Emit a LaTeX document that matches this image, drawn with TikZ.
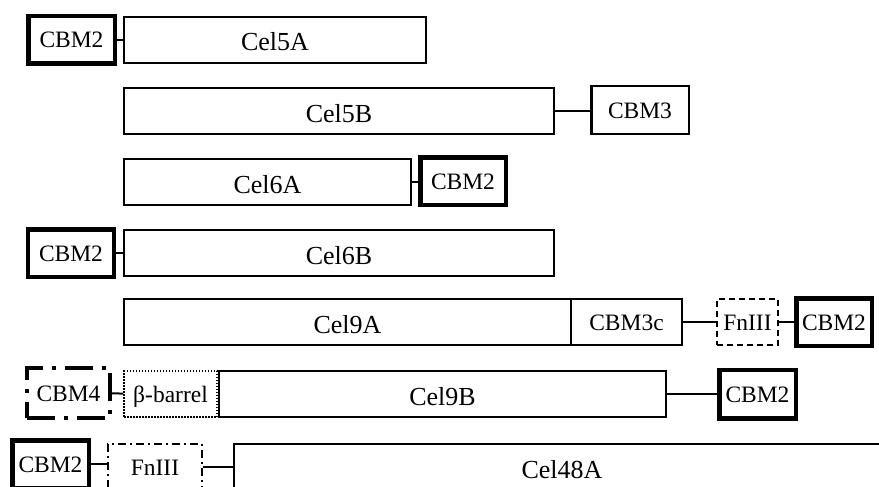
\documentclass[tikz,border=0pt]{standalone}
\usepackage{fontspec}
\setmainfont{Liberation Serif}

\tikzset{
    catalytic/.style={draw, line width=2pt, inner sep=0pt,
        font=\fontsize{26}{30}\selectfont, text height=22pt, text depth=0pt},
    module/.style={draw, line width=2pt, inner sep=0pt,
        font=\fontsize{23.5}{28}\selectfont, text height=16pt, text depth=0pt},
    cbmheavy/.style={module, line width=4.5pt},
    fndashed/.style={module, dash pattern=on 6pt off 4pt},
    fndashdot/.style={module, line width=1.8pt, dash pattern=on 8pt off 4pt on 2pt off 4pt},
    barrel/.style={module, line width=1.5pt, dash pattern=on 1.5pt off 1.5pt},
    cbmfour/.style={module, line width=4pt, dash pattern=on 28pt off 9pt on 4pt off 9pt},
    size/.style 2 args={minimum width=#1, minimum height=#2},
    link/.style={line width=2pt},
}

\begin{document}
\begin{tikzpicture}[x=1pt, y=-1pt]
    \useasboundingbox (0,0) rectangle (879,487);
    \clip (0,0) rectangle (879,487);

    % Cel5A
    \node[cbmheavy,  size={86.5pt}{47.5pt}] (cbmA)   at ( 71.5, 40) {CBM2};
    \node[catalytic, size={302pt}{46pt}]    (cel5a)  at (275,   40) {Cel5A};
    \draw[link] (cbmA) -- (cel5a);

    % Cel5B
    \node[catalytic, size={430pt}{46pt}]    (cel5b)  at (339,  111) {Cel5B};
    \node[module, line width=2.5pt, size={97.5pt}{47.5pt}] (cbmB) at (640, 110) {CBM3};
    \draw[link] (cel5b.east) -- (cel5b.east -| cbmB.west);

    % Cel6A
    \node[catalytic, size={287pt}{46pt}]    (cel6a)  at (267.5,182) {Cel6A};
    \node[cbmheavy,  size={85.5pt}{47.5pt}] (cbmC)   at (463,  181) {CBM2};
    \draw[link] (cel6a.east) -- (cel6a.east -| cbmC.west);

    % Cel6B
    \node[cbmheavy,  size={86pt}{47.5pt}]   (cbmD)   at ( 71,  253) {CBM2};
    \node[catalytic, size={430pt}{46pt}]    (cel6b)  at (339,  253) {Cel6B};
    \draw[link] (cbmD) -- (cel6b);

    % Cel9A
    \node[catalytic, size={447pt}{46pt}]    (cel9a)  at (347.5,322) {Cel9A};
    \node[module,    size={111pt}{46pt}]    (cbmE)   at (626.5,322) {CBM3c};
    \node[fndashed,  size={61pt}{46pt}]     (fnA)    at (747.5,322) {FnIII};
    \node[cbmheavy,  size={75.5pt}{47.5pt}] (cbmF)   at (834,  322) {CBM2};
    \draw[link] (cbmE) -- (fnA);
    \draw[link] (fnA)  -- (cbmF);

    % Cel9B
    \node[cbmfour,   size={83pt}{50pt}]     (cbmG)   at ( 68.5,393) {CBM4};
    \node[barrel,    size={93pt}{46pt}]     (betaA)  at (170.5,394) {β-barrel};
    \node[catalytic, size={447pt}{46pt}]    (cel9b)  at (442.5,394) {Cel9B};
    \node[cbmheavy,  size={76.5pt}{48.5pt}] (cbmH)   at (757.5,394) {CBM2};
    \draw[link] (cbmG)  -- (betaA);
    \draw[link] (cel9b) -- (cbmH);

    % Cel48A
    \node[cbmheavy,  size={76.5pt}{47.5pt}] (cbmI)   at ( 50.5,464) {CBM2};
    \node[fndashdot, size={94pt}{46pt}]     (fnB)    at (155,  467) {FnIII};
    \node[catalytic, size={656pt}{46pt}]    (cel48a) at (562,  467) {Cel48A};
    \draw[link] (cbmI.east) -- (cbmI.east -| fnB.west);
    \draw[link] (fnB) -- (cel48a);
\end{tikzpicture}
\end{document}
